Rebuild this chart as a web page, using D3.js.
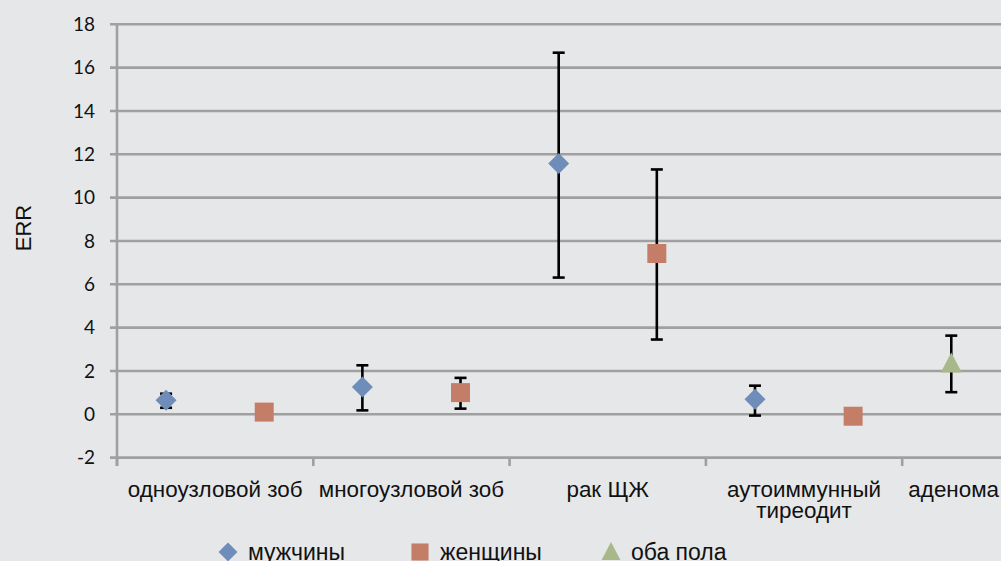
<!DOCTYPE html>
<html><head><meta charset="utf-8">
<script src="https://cdn.jsdelivr.net/npm/d3@7"></script>
<style>html,body{margin:0;padding:0;background:#e6e7e9;overflow:hidden}</style>
</head><body>
<svg id="c" width="1001" height="561"></svg>
<script>
const categories = ["одноузловой зоб", "многоузловой зоб", "рак ЩЖ", "аутоиммунный тиреодит", "аденома"];
const menValues = [0.65, 1.26, 11.58, 0.69, null];
const menLow    = [0.30, 0.18, 6.31, -0.06, null];
const menHigh   = [0.95, 2.26, 16.69, 1.32, null];
const womenValues = [0.10, 1.00, 7.42, -0.09, null];
const womenLow    = [null, 0.26, 3.45, null, null];
const womenHigh   = [null, 1.68, 11.30, null, null];
const bothValues = [null, null, null, null, 2.34];
const bothLow    = [null, null, null, null, 1.02];
const bothHigh   = [null, null, null, null, 3.63];
const yTicks = [-2, 0, 2, 4, 6, 8, 10, 12, 14, 16, 18];
const seriesNames = ["мужчины", "женщины", "оба пола"];

const svg = d3.select("#c");
svg.append("rect").attr("width",1001).attr("height",561).attr("fill","#e6e7e9");

const x = d3.scaleLinear().domain([0, 5]).range([117, 1098.5]);
const y = d3.scaleLinear().domain([-2, 18]).range([457.6, 24.3]);
const gridC = "#a0a0a0";

svg.append("g").selectAll("line").data(yTicks).join("line")
  .attr("x1", 110).attr("x2", 1001)
  .attr("y1", d => y(d)).attr("y2", d => y(d))
  .attr("stroke", gridC).attr("stroke-width", 2.6);
svg.append("line").attr("x1", x(0)).attr("x2", x(0)).attr("y1", y(18)-1).attr("y2", 466)
  .attr("stroke", gridC).attr("stroke-width", 2.6);
svg.append("g").selectAll("line").data(d3.range(0, 5)).join("line")
  .attr("x1", d => x(d)).attr("x2", d => x(d)).attr("y1", y(-2)).attr("y2", 466)
  .attr("stroke", gridC).attr("stroke-width", 2.6);

svg.append("g").selectAll("text").data(yTicks).join("text")
  .attr("x", 95).attr("y", d => y(d)).attr("dy", "0.35em")
  .attr("text-anchor", "end").attr("font-family", "Lato, 'Open Sans', sans-serif")
  .attr("font-size", 19).attr("fill", "#111").text(d => d);

svg.append("text").attr("transform", "translate(31,228) rotate(-90)")
  .attr("text-anchor", "middle").attr("font-family", "'Liberation Sans', Arial, sans-serif")
  .attr("font-size", 22).attr("fill", "#111").text("ERR");

const catG = svg.append("g").attr("font-family", "'Liberation Sans', Arial, sans-serif")
  .attr("font-size", 22.4).attr("fill", "#111");
categories.forEach((c, i) => {
  const words = c === "аутоиммунный тиреодит" ? ["аутоиммунный", "тиреодит"] : [c];
  const last = i === categories.length - 1;
  words.forEach((w, k) => catG.append("text")
    .attr("x", last ? 999 : x(i + 0.5))
    .attr("text-anchor", last ? "end" : "middle")
    .attr("y", 496.5 + k * 21).text(w));
});

const colors = ["#6f8db9", "#c47e68", "#a9b88b"];
const series = [
  {vals: menValues, lo: menLow, hi: menHigh, off: 0.25, shape: "diamond"},
  {vals: womenValues, lo: womenLow, hi: womenHigh, off: 0.75, shape: "square"},
  {vals: bothValues, lo: bothLow, hi: bothHigh, off: 0.25, shape: "triangle"}
];
function markerPath(shape) {
  if (shape === "diamond") return "M0,-10.5L10.5,0L0,10.5L-10.5,0Z";
  if (shape === "square") return "M-9.5,-9.5H9.5V9.5H-9.5Z";
  return "M0,-11L10.5,9L-10.5,9Z";
}
const errG = svg.append("g").attr("stroke", "#000").attr("stroke-width", 2.6);
series.forEach(s => {
  s.vals.forEach((v, i) => {
    if (v == null || s.lo[i] == null) return;
    const cx = x(i + s.off);
    errG.append("line").attr("x1", cx).attr("x2", cx).attr("y1", y(s.lo[i])).attr("y2", y(s.hi[i]));
    [s.lo[i], s.hi[i]].forEach(e => errG.append("line").attr("x1", cx - 6).attr("x2", cx + 6)
      .attr("y1", y(e)).attr("y2", y(e)));
  });
});
series.forEach((s, si) => {
  svg.append("g").selectAll("path").data(s.vals.map((v, i) => ({v, i})).filter(d => d.v != null))
    .join("path").attr("d", markerPath(s.shape))
    .attr("transform", d => `translate(${x(d.i + s.off)},${y(d.v)})`)
    .attr("fill", colors[si]);
});

const legX = [228, 420, 611];
const legG = svg.append("g").attr("font-family", "'Liberation Sans', Arial, sans-serif")
  .attr("font-size", 23).attr("fill", "#111");
seriesNames.forEach((n, i) => {
  legG.append("path").attr("d", markerPath(series[i].shape))
    .attr("transform", `translate(${legX[i]},552) scale(0.9)`).attr("fill", colors[i]);
  legG.append("text").attr("x", legX[i] + 20).attr("y", 560).text(n);
});
</script>
</body></html>
